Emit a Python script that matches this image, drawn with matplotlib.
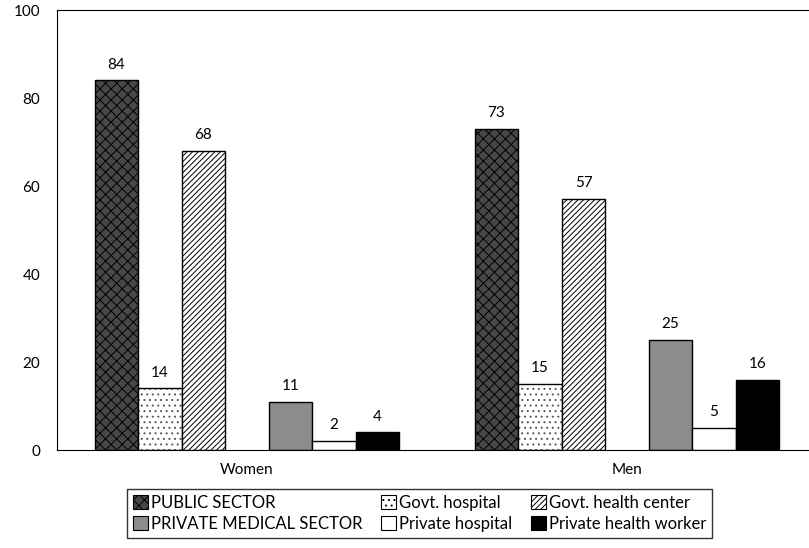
import matplotlib.pyplot as plt
import numpy as np

plt.rcParams['font.family'] = ['Lato', 'DejaVu Sans']
plt.rcParams['hatch.linewidth'] = 0.7

groups = ['Women', 'Men']
series = ['PUBLIC SECTOR', 'Govt. hospital', 'Govt. health center',
          'PRIVATE MEDICAL SECTOR', 'Private hospital', 'Private health worker']
values = {
    'PUBLIC SECTOR': [84, 73],
    'Govt. hospital': [14, 15],
    'Govt. health center': [68, 57],
    'PRIVATE MEDICAL SECTOR': [11, 25],
    'Private hospital': [2, 5],
    'Private health worker': [4, 16],
}
yticks = [0, 20, 40, 60, 80, 100]

colors = ['#474747', 'white', 'white', '#8c8c8c', 'white', 'black']
hatches = ['xxx', '...', '//////', None, None, None]
hatch_colors = ['black', '#555555', 'black', 'black', 'black', 'black']
slots = [-3, -2, -1, 1, 2, 3]

fig = plt.figure(figsize=(8.09, 5.48), dpi=100)
ax = fig.add_axes([57 / 809, 1 - 450 / 548, 1 - 57 / 809, 440 / 548])

x = np.arange(len(groups))
w = 43.5 / 380
handles = {}
for name, c, h, hc, s in zip(series, colors, hatches, hatch_colors, slots):
    pos = x + s * w
    # fill + hatch, then a black outline on top
    bars = ax.bar(pos, values[name], width=w, color=c, edgecolor=hc,
                  hatch=h, linewidth=0)
    ax.bar(pos, values[name], width=w, fill=False, edgecolor='black', linewidth=1)
    handles[name] = bars
    for px, v in zip(pos, values[name]):
        ax.text(px, v + 2, str(v), ha='center', va='bottom', fontsize=11)

ax.set_xlim(-0.5, 1.479)
ax.set_ylim(0, 100)
ax.set_yticks(yticks)
ax.set_xticks(x)
ax.set_xticklabels(groups)
ax.tick_params(axis='both', length=0, labelsize=11)
ax.tick_params(axis='y', pad=12)
ax.tick_params(axis='x', pad=9)
ax.spines['right'].set_visible(False)

order = [0, 3, 1, 4, 2, 5]
leg = fig.legend([handles[series[i]] for i in order], [series[i] for i in order],
                 ncol=3, loc='center', bbox_to_anchor=(0.5186, 0.063),
                 fontsize=12, frameon=True, fancybox=False, edgecolor='black',
                 handlelength=0.9, handleheight=0.9, handletextpad=0.2,
                 columnspacing=1.1, labelspacing=0.3, borderpad=0.35)
leg.get_frame().set_linewidth(1)
for patch in leg.get_patches():
    patch.set_linewidth(0.8)
    patch.set_edgecolor('black')

fig.savefig('out.png', dpi=100)
